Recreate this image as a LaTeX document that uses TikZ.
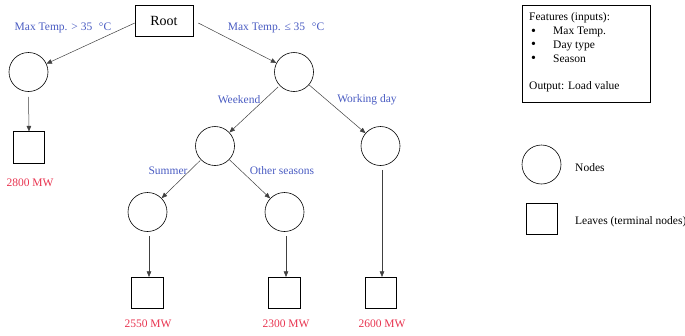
\documentclass[tikz,border=0pt]{standalone}
\usepackage{fontspec}
\setmainfont{Liberation Serif}
\usetikzlibrary{arrows.meta}
\definecolor{condblue}{HTML}{4A5CC2}
\definecolor{loadred}{HTML}{E8334F}
\tikzset{
  split/.style={circle, draw, line width=0.6pt, minimum size=39pt, inner sep=0pt},
  leaf/.style={rectangle, draw, line width=0.6pt, minimum size=31.5pt, inner sep=0pt},
  cond/.style={text=condblue, font=\fontsize{11.5}{13}\selectfont, inner sep=0pt},
  load/.style={text=loadred, font=\fontsize{11.5}{13}\selectfont, inner sep=0pt},
  plain/.style={font=\fontsize{11.5}{13}\selectfont, inner sep=0pt},
  edge/.style={draw=black!75, line width=0.5pt, -{Triangle[length=5.5pt,width=4.5pt]}},
}
\begin{document}
\begin{tikzpicture}[x=1pt, y=-1pt]
\useasboundingbox (0,0) rectangle (685,335);

% tree
\node[draw, line width=0.6pt, minimum width=58pt, minimum height=31pt, inner sep=0pt,
      font=\fontsize{14}{16}\selectfont] (root) at (164,20.5) {Root};
\node[split] (hot)     at (28.5,72) {};
\node[split] (mild)    at (294,72) {};
\node[split] (weekend) at (215,146) {};
\node[split] (work)    at (380.5,146) {};
\node[split] (summer)  at (147.5,212) {};
\node[split] (other)   at (284.5,212) {};

\node[leaf] (l2800) at (29,147.5) {};
\node[leaf] (l2550) at (147.5,293) {};
\node[leaf] (l2300) at (284.5,293) {};
\node[leaf] (l2600) at (381,293) {};

% connectors
\coordinate (rootL) at ([yshift=-2.5pt]root.west);
\coordinate (rootR) at ([xshift=5pt,yshift=-2.5pt]root.east);
\draw[edge] (rootL) -- (hot);
\draw[edge] (rootR) -- (mild);
\draw[edge] ([yshift=-5pt]hot.south) -- (l2800.north);
\draw[edge, shorten <=2pt] (mild) -- (weekend);
\draw[edge] (mild) -- (work);
\draw[edge, shorten <=1pt] (weekend) -- (summer);
\draw[edge] (weekend) -- (other);
\draw[edge] ([xshift=1.5pt,yshift=-4pt]summer.south) -- ([xshift=1.5pt]l2550.north);
\draw[edge] ([xshift=1.5pt,yshift=-4pt]other.south) -- ([xshift=1.5pt]l2300.north);
\draw[edge] ([xshift=1.5pt,yshift=-4pt]work.south) -- ([xshift=1pt]l2600.north);

% branch conditions
\node[cond] (c1) at (63,28) {Max Temp. > 35\,\, °C};
\node[cond] (c2) at (276,28) {Max Temp. ≤ 35\,\, °C};
\node[cond] (c3) at (239,100) {Weekend};
\node[cond] (c4) at (367,100) {Working day};
\node[cond] (c5) at (168,171) {Summer};
\node[cond] (c6) at (282,171) {Other seasons};

% leaf values
\node[load] (v2800) at (30,183) {2800 MW};
\node[load] (v2550) at (148,323.5) {2550 MW};
\node[load] (v2300) at (286,323.5) {2300 MW};
\node[load] (v2600) at (382,323.5) {2600 MW};

% features box
\draw[line width=0.6pt] (522,5) rectangle (650,102);
\node[plain, anchor=west] (ftitle) at (529,17.5) {Features (inputs):};
\foreach \y/\t/\n in {32/Max Temp./fa, 45.5/Day type/fb, 59/Season/fc} {
  \node[plain] (\n b) at (533.5,\y) {\fontsize{14}{14}\selectfont\textbullet};
  \node[plain, anchor=west] (\n) at (553,\y) {\t};
}
\node[plain, anchor=west] (fout) at (529,87) {Output: Load value};

% legend
\node[split] (legnode) at (541.5,164.5) {};
\node[plain, anchor=west] (legnodet) at (575,168) {Nodes};
\node[leaf] (legleaf) at (542,219) {};
\node[plain, anchor=west] (legleaft) at (575,222) {Leaves (terminal nodes)};
\end{tikzpicture}
\end{document}
